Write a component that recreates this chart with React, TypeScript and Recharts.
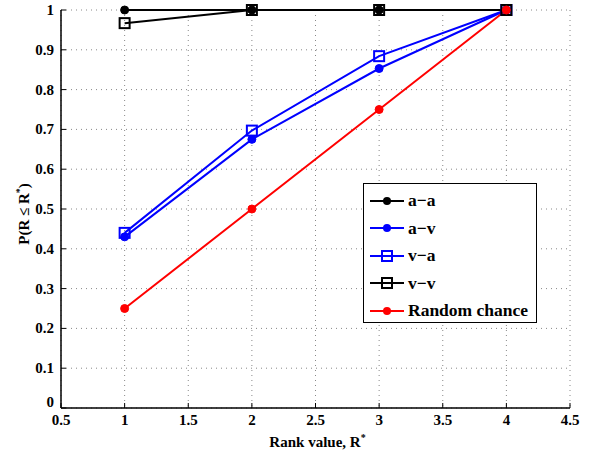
import { LineChart, Line, XAxis, YAxis, CartesianGrid } from "recharts";

// rank values and cumulative probabilities
const ranks = [1, 2, 3, 4];
const aa = [1, 1, 1, 1];
const av = [0.43, 0.675, 0.853, 1];
const va = [0.44, 0.697, 0.884, 1];
const vv = [0.967, 1, 1, 1];
const randomChance = [0.25, 0.5, 0.75, 1];

const xTicks = [0.5, 1, 1.5, 2, 2.5, 3, 3.5, 4, 4.5];
const yTicks = [0, 0.1, 0.2, 0.3, 0.4, 0.5, 0.6, 0.7, 0.8, 0.9, 1];

const data = ranks.map((r, i) => ({
  rank: r,
  aa: aa[i],
  av: av[i],
  va: va[i],
  vv: vv[i],
  rnd: randomChance[i],
}));

const series = [
  { key: "aa", name: "a\u2212a", color: "#000000", marker: "dot" },
  { key: "av", name: "a\u2212v", color: "#0000ff", marker: "dot" },
  { key: "va", name: "v\u2212a", color: "#0000ff", marker: "square" },
  { key: "vv", name: "v\u2212v", color: "#000000", marker: "square" },
  { key: "rnd", name: "Random chance", color: "#ff0000", marker: "dot" },
];

const FONT = "Liberation Serif, Times New Roman, serif";
const TICK_LEN = 5;
const MARGIN = 6;

const BottomTick = (props: any) => {
  const { x, y, payload } = props;
  const ay = y - MARGIN;
  return (
    <g>
      <line x1={x} y1={ay} x2={x} y2={ay - TICK_LEN} stroke="#000" />
      <text x={x} y={y} dy={11} textAnchor="middle" fontFamily={FONT} fontWeight="bold" fontSize={15} fill="#000">
        {String(payload.value)}
      </text>
    </g>
  );
};

const TopTick = (props: any) => {
  const { x, y } = props;
  const ay = y + MARGIN;
  return <line x1={x} y1={ay} x2={x} y2={ay + TICK_LEN} stroke="#000" />;
};

const LeftTick = (props: any) => {
  const { x, y, payload } = props;
  const ax = x + MARGIN;
  return (
    <g>
      <line x1={ax} y1={y} x2={ax + TICK_LEN} y2={y} stroke="#000" />
      <text x={x - 1} y={y} dy={payload.value === 0 ? -1 : 5} textAnchor="end" fontFamily={FONT} fontWeight="bold" fontSize={15} fill="#000">
        {String(payload.value)}
      </text>
    </g>
  );
};

const RightTick = (props: any) => {
  const { x, y } = props;
  const ax = x - MARGIN;
  return <line x1={ax} y1={y} x2={ax - TICK_LEN} y2={y} stroke="#000" />;
};

const Square = (color: string) => (props: any) => {
  const { cx, cy, index } = props;
  if (cx == null || cy == null) return null;
  return <rect key={index} x={cx - 5} y={cy - 5} width={10} height={10} fill="none" stroke={color} strokeWidth={2} />;
};

const Dot = (color: string) => (props: any) => {
  const { cx, cy, index } = props;
  if (cx == null || cy == null) return null;
  return <circle key={index} cx={cx} cy={cy} r={4} fill={color} stroke={color} />;
};

const YLabel = (props: any) => {
  const vb = props.viewBox || { x: 0, y: 0, width: 0, height: 0 };
  const cx = 24;
  const cy = vb.y + vb.height / 2 + 5;
  return (
    <text
      transform={`translate(${cx},${cy}) rotate(-90)`}
      textAnchor="middle"
      fontFamily={FONT}
      fontWeight="bold"
      fontSize={15}
      fill="#000"
      dy={5}
    >
      P(R ≤ R<tspan dy={-6} fontSize={10}>*</tspan><tspan dy={6}>)</tspan>
    </text>
  );
};

const XLabel = (props: any) => {
  const vb = props.viewBox || { x: 0, y: 0, width: 0, height: 0 };
  const cx = vb.x + vb.width / 2 + 2;
  return (
    <text x={cx} y={447} textAnchor="middle" fontFamily={FONT} fontWeight="bold" fontSize={15} fill="#000">
      Rank value, R<tspan dy={-6} fontSize={10}>*</tspan>
    </text>
  );
};

const LegendBox = () => (
  <div
    style={{
      position: "absolute",
      left: 363,
      top: 183,
      width: 174,
      height: 140,
      border: "1.5px solid #000",
      background: "#fff",
      boxSizing: "border-box",
      paddingTop: 3,
      fontFamily: FONT,
      fontWeight: "bold",
      fontSize: 17.5,
    }}
  >
    {series.map((it) => (
      <div key={it.key} style={{ display: "flex", alignItems: "center", height: 27.5 }}>
        <svg width={38} height={14} style={{ marginLeft: 5 }}>
          <line x1={1} y1={7} x2={35} y2={7} stroke={it.color} strokeWidth={2} />
          {it.marker === "dot" ? (
            <circle cx={18} cy={7} r={4} fill={it.color} />
          ) : (
            <rect x={13} y={2} width={10} height={10} fill="none" stroke={it.color} strokeWidth={2} />
          )}
        </svg>
        <span style={{ marginLeft: 1 }}>{it.name}</span>
      </div>
    ))}
  </div>
);

export default function App() {
  return (
    <div style={{ position: "absolute", left: 0, top: 0, width: 600, height: 454, background: "#fff" }}>
      <LineChart width={600} height={454} data={data} margin={{ top: 10, right: 30, bottom: 0, left: 0 }}>
        <CartesianGrid stroke="#888" strokeDasharray="1 4" horizontalValues={yTicks} verticalValues={xTicks} />
        <XAxis
          dataKey="rank"
          type="number"
          domain={[0.5, 4.5]}
          ticks={xTicks}
          interval={0}
          tickSize={0}
          tickMargin={MARGIN}
          tick={<BottomTick />}
          axisLine={{ stroke: "#000", strokeWidth: 1.5 }}
          height={46}
          label={<XLabel />}
        />
        <XAxis
          xAxisId="top"
          orientation="top"
          dataKey="rank"
          type="number"
          domain={[0.5, 4.5]}
          ticks={xTicks}
          interval={0}
          tickSize={0}
          tickMargin={MARGIN}
          tick={<TopTick />}
          axisLine={{ stroke: "#000", strokeWidth: 1.5 }}
          height={0}
        />
        <YAxis
          type="number"
          domain={[0, 1]}
          ticks={yTicks}
          interval={0}
          tickSize={0}
          tickMargin={MARGIN}
          tick={<LeftTick />}
          axisLine={{ stroke: "#000", strokeWidth: 1.5 }}
          width={61}
          label={<YLabel />}
        />
        <YAxis
          yAxisId="right"
          orientation="right"
          type="number"
          domain={[0, 1]}
          ticks={yTicks}
          interval={0}
          tickSize={0}
          tickMargin={MARGIN}
          tick={<RightTick />}
          axisLine={{ stroke: "#000", strokeWidth: 1.5 }}
          width={0}
        />
        {series.map((s) => (
          <Line
            key={s.key}
            dataKey={s.key}
            name={s.name}
            stroke={s.color}
            strokeWidth={2}
            dot={s.marker === "dot" ? Dot(s.color) : Square(s.color)}
            isAnimationActive={false}
          />
        ))}
      </LineChart>
      <LegendBox />
    </div>
  );
}
